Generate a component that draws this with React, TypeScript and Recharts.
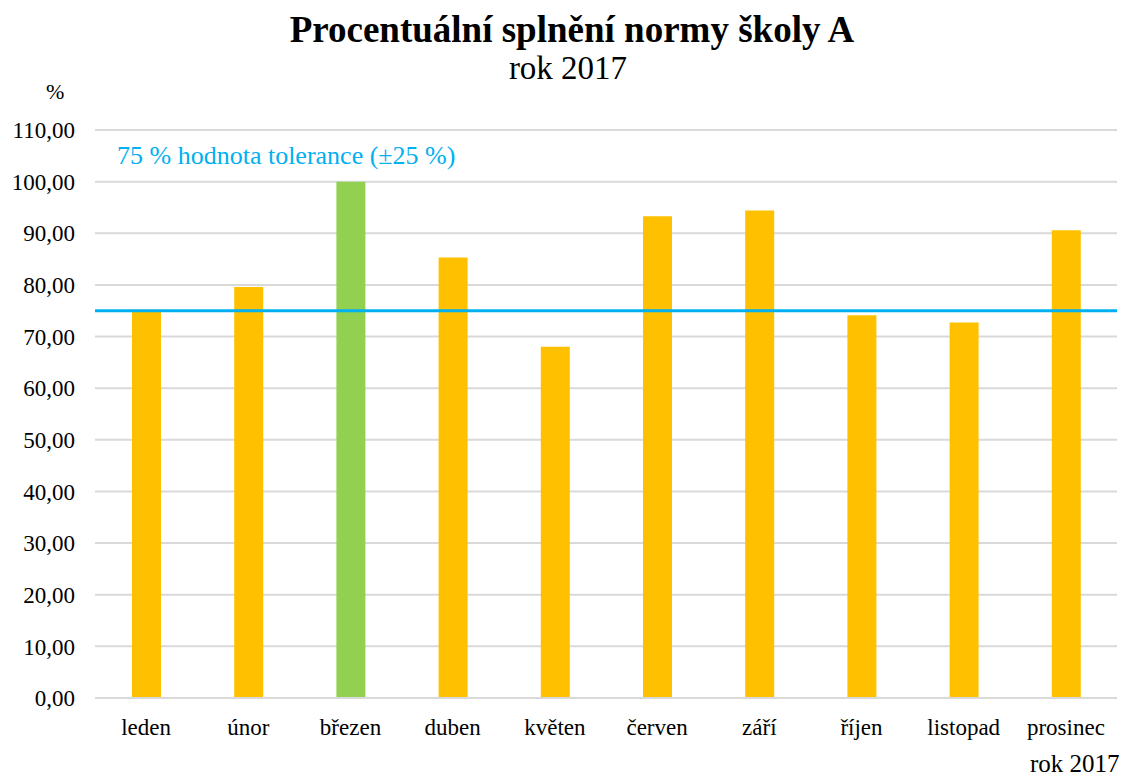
import { BarChart, Bar, XAxis, YAxis, CartesianGrid, ReferenceLine, Cell } from 'recharts';

const months = ['leden', 'únor', 'březen', 'duben', 'květen', 'červen', 'září', 'říjen', 'listopad', 'prosinec'];
const fulfilment = [75.2, 79.6, 100, 85.3, 68.0, 93.3, 94.4, 74.1, 72.7, 90.6];
const yTicks = [0, 10, 20, 30, 40, 50, 60, 70, 80, 90, 100, 110];
const tolerance = 75;
const toleranceLabel = '75 % hodnota tolerance (±25 %)';
const title = 'Procentuální splnění normy školy A';
const subtitle = 'rok 2017';

const data = months.map((m, i) => ({ month: m, value: fulfilment[i] }));

const serif = 'serif';
const gold = '#FFC000';
const green = '#92D050';
const cyan = '#00B0F0';

function ToleranceLabel(props: any) {
  const vb = props.viewBox || {};
  return (
    <text x={vb.x + 22} y={vb.y - 147} fill={cyan} fontSize={26} fontFamily={serif}>
      {toleranceLabel}
    </text>
  );
}

export default function App() {
  return (
    <div style={{ position: 'absolute', left: 0, top: 0, width: 1127, height: 778, background: '#fff', fontFamily: '"Liberation Serif", serif' }}>
      <div style={{ position: 'absolute', left: 272, width: 600, top: 11, textAlign: 'center', fontSize: 37, fontWeight: 'bold', lineHeight: 1 }}>
        {title}
      </div>
      <div style={{ position: 'absolute', left: 268, width: 600, top: 52, textAlign: 'center', fontSize: 33, lineHeight: 1 }}>
        {subtitle}
      </div>
      <div style={{ position: 'absolute', left: 46, top: 81, fontSize: 22, lineHeight: 1 }}>%</div>
      <div style={{ position: 'absolute', left: 1030, top: 751, fontSize: 25, lineHeight: 1 }}>{subtitle}</div>
      <BarChart
        width={1127}
        height={778}
        data={data}
        margin={{ top: 130, right: 10, left: 0, bottom: 30 }}
        style={{ position: 'absolute', left: 0, top: 0 }}
      >
        <CartesianGrid vertical={false} stroke="#d9d9d9" strokeWidth={2} />
        <XAxis
          dataKey="month"
          height={50}
          tickLine={false}
          tickSize={0}
          tickMargin={21}
          axisLine={{ stroke: '#d9d9d9', strokeWidth: 2 }}
          tick={{ fill: '#000', fontSize: 23, fontFamily: serif }}
          interval={0}
        />
        <YAxis
          width={95}
          domain={[0, 110]}
          ticks={yTicks}
          axisLine={false}
          tickLine={false}
          tickSize={0}
          tickMargin={20}
          tick={{ fill: '#000', fontSize: 23, fontFamily: serif }}
          tickFormatter={(v: number) => v.toFixed(2).replace('.', ',')}
        />
        <Bar dataKey="value" barSize={29} isAnimationActive={false}>
          {data.map((d) => (
            <Cell key={d.month} fill={d.value >= 100 ? green : gold} />
          ))}
        </Bar>
        <ReferenceLine y={tolerance} stroke={cyan} strokeWidth={3} label={<ToleranceLabel />} />
      </BarChart>
    </div>
  );
}
